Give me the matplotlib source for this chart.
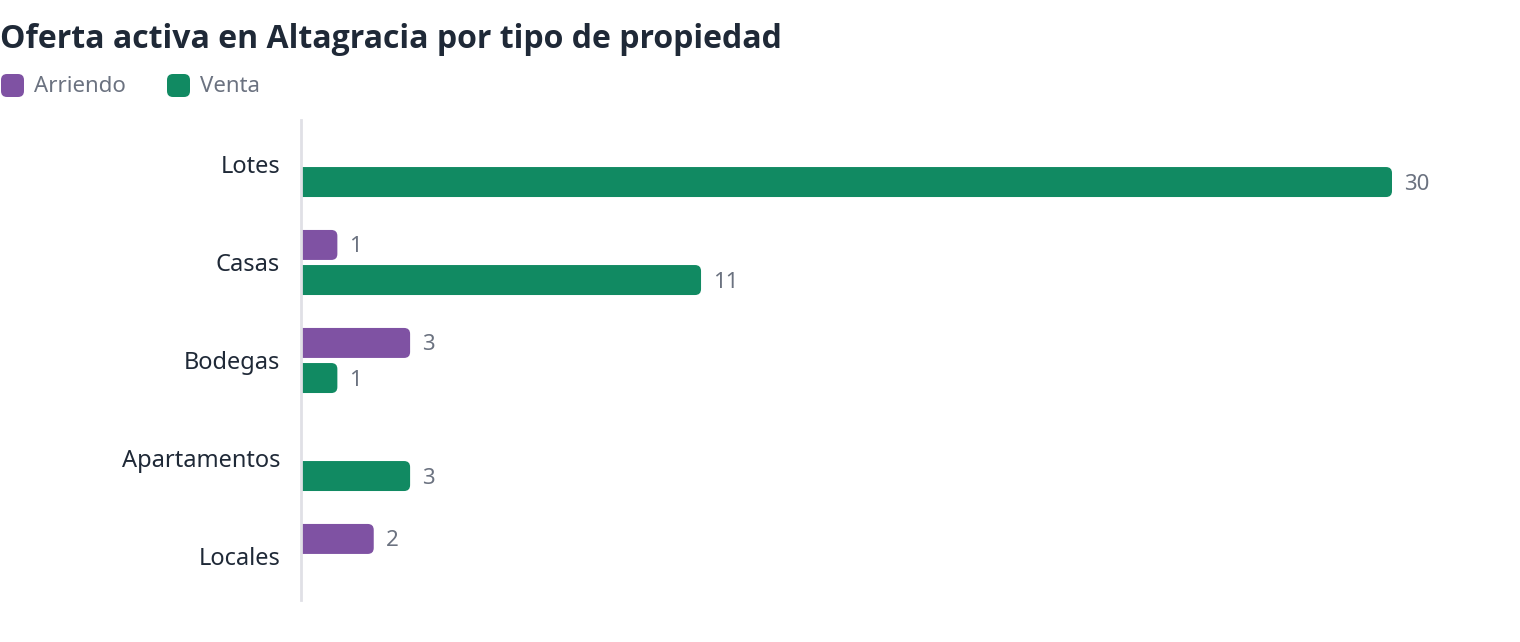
import matplotlib
matplotlib.use("Agg")
import matplotlib.pyplot as plt
from matplotlib.patches import FancyBboxPatch, PathPatch
from matplotlib.path import Path
import numpy as np

plt.rcParams["font.family"] = ["Noto Sans", "DejaVu Sans"]

categories = ["Lotes", "Casas", "Bodegas", "Apartamentos", "Locales"]
arriendo = [0, 1, 3, 0, 2]
venta = [30, 11, 1, 3, 0]
series_names = ["Arriendo", "Venta"]

PURPLE = "#7f52a3"
GREEN = "#118a62"
TITLE_C = "#1f2937"
LABEL_C = "#6b7280"

W, H = 1520, 642
fig = plt.figure(figsize=(W / 100, H / 100), dpi=100)
ax = fig.add_axes([301 / W, 1 - 600 / H, 1100 / W, 480 / H])

xmax = 1100 / (1091 / 30)
ax.set_xlim(0, xmax)
ax.set_ylim(len(categories) - 1 + 0.444, -0.454)

bh = 0.306
off = 0.179
# px -> data conversion for rounded corners
px_x = xmax / 1100
px_y = 1 / 98
r_px = 6


def rbar(y, v, color):
    """bar with only the right end rounded"""
    if v <= 0:
        return
    rx, ry = r_px * px_x, r_px * px_y
    y0, y1 = y - bh / 2, y + bh / 2
    verts = [(0, y0), (v - rx, y0), (v, y0), (v, y0 + ry), (v, y1 - ry),
             (v, y1), (v - rx, y1), (0, y1), (0, y0)]
    codes = [Path.MOVETO, Path.LINETO, Path.CURVE3, Path.CURVE3, Path.LINETO,
             Path.CURVE3, Path.CURVE3, Path.LINETO, Path.CLOSEPOLY]
    ax.add_patch(PathPatch(Path(verts, codes), fc=color, ec="none", lw=0))
    ax.text(v + 12 * px_x, y + 2 * px_y, str(v), ha="left", va="center",
            fontsize=16, color=LABEL_C)


y = np.arange(len(categories))
for i in range(len(categories)):
    rbar(y[i] - off, arriendo[i], PURPLE)
    rbar(y[i] + off, venta[i], GREEN)

ax.set_yticks(y)
ax.set_yticklabels(categories, fontsize=17, color=TITLE_C)
ax.tick_params(axis="y", length=0, pad=15)
ax.set_xticks([])
for s in ["top", "right", "bottom"]:
    ax.spines[s].set_visible(False)
ax.spines["left"].set_color("#e0e0e6")
ax.spines["left"].set_linewidth(2)

fig.text(0, 1 - 39 / H, "Oferta activa en Altagracia por tipo de propiedad",
         fontsize=23, fontweight="bold", family=["Open Sans", "DejaVu Sans"],
         color=TITLE_C, ha="left", va="center")

# legend
for x0, name, col in [(0, series_names[0], PURPLE), (166, series_names[1], GREEN)]:
    sq = FancyBboxPatch((x0 + 1, H - 97), 23, 23,
                        boxstyle="round,pad=0,rounding_size=6",
                        fc=col, ec="none", transform=None)
    fig.add_artist(sq)
    fig.text((x0 + 34) / W, 1 - 86 / H, name, fontsize=16, color=LABEL_C,
             ha="left", va="center")

fig.savefig("out.png", dpi=100)
